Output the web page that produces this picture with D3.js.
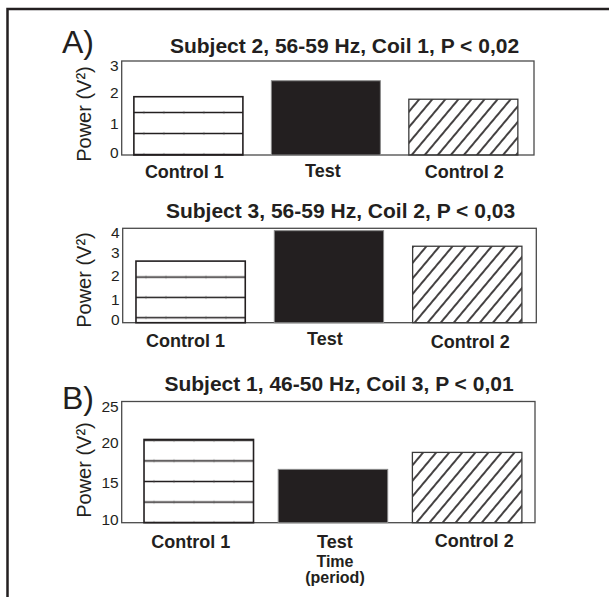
<!DOCTYPE html>
<html>
<head>
<meta charset="utf-8">
<script src="https://cdn.jsdelivr.net/npm/d3@7"></script>
<style>
  body { margin: 0; background: #fff; }
  text { font-family: "Liberation Sans", Arial, sans-serif; fill: #231f20; }
</style>
</head>
<body>
<div id="chart"></div>
<script>
// ---- data ----
var categories = ["Control 1", "Test", "Control 2"];
var titles = [
  "Subject 2, 56-59 Hz, Coil 1, P < 0,02",
  "Subject 3, 56-59 Hz, Coil 2, P < 0,03",
  "Subject 1, 46-50 Hz, Coil 3, P < 0,01"
];
var panelTags = ["A)", "", "B)"];
var values1 = [1.86, 2.37, 1.78];
var values2 = [2.61, 3.90, 3.24];
var values3 = [20.3, 16.6, 18.7];
var yDomains = [[0, 3], [0, 4], [10, 25]];
var yTicks = [[0, 1, 2, 3], [0, 1, 2, 3, 4], [10, 15, 20, 25]];
var yLabel = "Power (V\u00b2)";
var xTitle = ["Time", "(period)"];

var series = [values1, values2, values3];

// ---- layout / style per panel ----
var layout = [
  { x0: 121.7, x1: 534, y0: 61, y1: 155, pi: 0.207, po: 0.103, align: 0.43,
    titleX: 344.5, titleY: 53.3, tagY: 53, labelDx: [-4, -3, 1], labelDy: [23.3, 21.7, 23.3],
    ylabY: 114, hatch: 21, hatchOff: 0.5 },
  { x0: 122.7, x1: 536.3, y0: 228.3, y1: 322.7, pi: 0.21, po: 0.1, align: 0.48,
    titleX: 340.5, titleY: 218.3, labelDx: [-5, -4, 3], labelDy: [24, 22.3, 25.6],
    ylabY: 280, hatch: 20.3, hatchOff: 5 },
  { x0: 121.7, x1: 535, y0: 401.5, y1: 522.7, pi: 0.184, po: 0.132, align: 0.63,
    titleX: 339, titleY: 390.7, tagY: 409, labelDx: [-8, 2, 7], labelDy: [25.3, 25.3, 24],
    ylabY: 470, hatch: 20.6, hatchOff: 0 }
];
var ink = "#231f20";

var svg = d3.select("#chart").append("svg")
  .attr("width", 609).attr("height", 597);

svg.append("rect").attr("width", 609).attr("height", 597).attr("fill", "#fff");

// outer frame (right/bottom edges run off the picture)
svg.append("rect")
  .attr("x", 7.5).attr("y", 9).attr("width", 620).attr("height", 620)
  .attr("fill", "none").attr("stroke", ink).attr("stroke-width", 2.5);

var defs = svg.append("defs");

defs.append("pattern")
  .attr("id", "diag")
  .attr("patternUnits", "userSpaceOnUse")
  .attr("width", 10).attr("height", 10)
  .attr("patternTransform", "rotate(40)")
  .append("line")
  .attr("x1", 5).attr("x2", 5).attr("y1", -1).attr("y2", 11)
  .attr("stroke", ink).attr("stroke-width", 1.7);

layout.forEach(function(L, i) {
  var values = series[i];

  var x = d3.scaleBand()
    .domain(categories)
    .range([L.x0, L.x1])
    .paddingInner(L.pi)
    .paddingOuter(L.po)
    .align(L.align);

  var y = d3.scaleLinear()
    .domain(yDomains[i])
    .range([L.y1, L.y0]);

  // horizontal-line fill for Control 1
  var hp = defs.append("pattern")
    .attr("id", "hz" + i)
    .attr("patternUnits", "userSpaceOnUse")
    .attr("x", x(categories[0]))
    .attr("y", L.y1 - L.hatchOff - L.hatch / 2)
    .attr("width", 20).attr("height", L.hatch);
  hp.append("rect").attr("width", 20).attr("height", L.hatch).attr("fill", "#fff");
  hp.append("line")
    .attr("x1", 0).attr("x2", 20)
    .attr("y1", L.hatch / 2).attr("y2", L.hatch / 2)
    .attr("stroke", ink).attr("stroke-width", 1.5);
  hp.append("line")
    .attr("x1", 10).attr("x2", 10)
    .attr("y1", L.hatch / 2 - 1.6).attr("y2", L.hatch / 2 + 1.6)
    .attr("stroke", "#555").attr("stroke-width", 0.5);

  var fills = ["url(#hz" + i + ")", ink, "url(#diag)"];
  var strokes = [ink, "#8a8a8a", "#3a3a3a"];
  var strokeW = [1.6, 1, 1.3];

  // plot frame
  svg.append("rect")
    .attr("x", L.x0).attr("y", L.y0)
    .attr("width", L.x1 - L.x0).attr("height", L.y1 - L.y0)
    .attr("fill", "none").attr("stroke", "#4a4a4a").attr("stroke-width", 1.3);

  // bars
  svg.append("g").selectAll("rect")
    .data(values)
    .enter().append("rect")
    .attr("x", function(d, j) { return x(categories[j]); })
    .attr("width", x.bandwidth())
    .attr("y", function(d) { return y(d); })
    .attr("height", function(d) { return y(yDomains[i][0]) - y(d); })
    .attr("fill", function(d, j) { return fills[j]; })
    .attr("stroke", function(d, j) { return strokes[j]; })
    .attr("stroke-width", function(d, j) { return strokeW[j]; });

  // y tick labels (kept inside the frame height)
  svg.append("g").selectAll("text")
    .data(yTicks[i])
    .enter().append("text")
    .attr("x", L.x0 - 3)
    .attr("y", function(d) {
      var c = Math.max(L.y0 + 4.5, Math.min(L.y1 - 3, y(d)));
      return c + 5.6;
    })
    .attr("text-anchor", "end")
    .style("font-size", "15.5px")
    .text(function(d) { return d; });

  // y axis title
  svg.append("text")
    .attr("transform", "translate(91," + L.ylabY + ") rotate(-90)")
    .attr("text-anchor", "middle")
    .style("font-size", "20px")
    .text(yLabel);

  // category labels
  svg.append("g").selectAll("text")
    .data(categories)
    .enter().append("text")
    .attr("x", function(d, j) { return x(d) + x.bandwidth() / 2 + L.labelDx[j]; })
    .attr("y", function(d, j) { return L.y1 + L.labelDy[j]; })
    .attr("text-anchor", "middle")
    .style("font-size", "18px")
    .style("font-weight", "bold")
    .text(function(d) { return d; });

  // panel title
  svg.append("text")
    .attr("x", L.titleX).attr("y", L.titleY)
    .attr("text-anchor", "middle")
    .style("font-size", "21px")
    .style("font-weight", "bold")
    .text(titles[i]);

  if (panelTags[i]) {
    svg.append("text")
      .attr("x", 62).attr("y", L.tagY)
      .style("font-size", "32px")
      .text(panelTags[i]);
  }

  if (i === 2) {
    var xc = x(categories[1]) + x.bandwidth() / 2 + L.labelDx[1];
    svg.append("text")
      .attr("x", xc).attr("y", 566.7)
      .attr("text-anchor", "middle")
      .style("font-size", "16px").style("font-weight", "bold")
      .text(xTitle[0]);
    svg.append("text")
      .attr("x", xc).attr("y", 583)
      .attr("text-anchor", "middle")
      .style("font-size", "16px").style("font-weight", "bold")
      .text(xTitle[1]);
  }
});
</script>
</body>
</html>
